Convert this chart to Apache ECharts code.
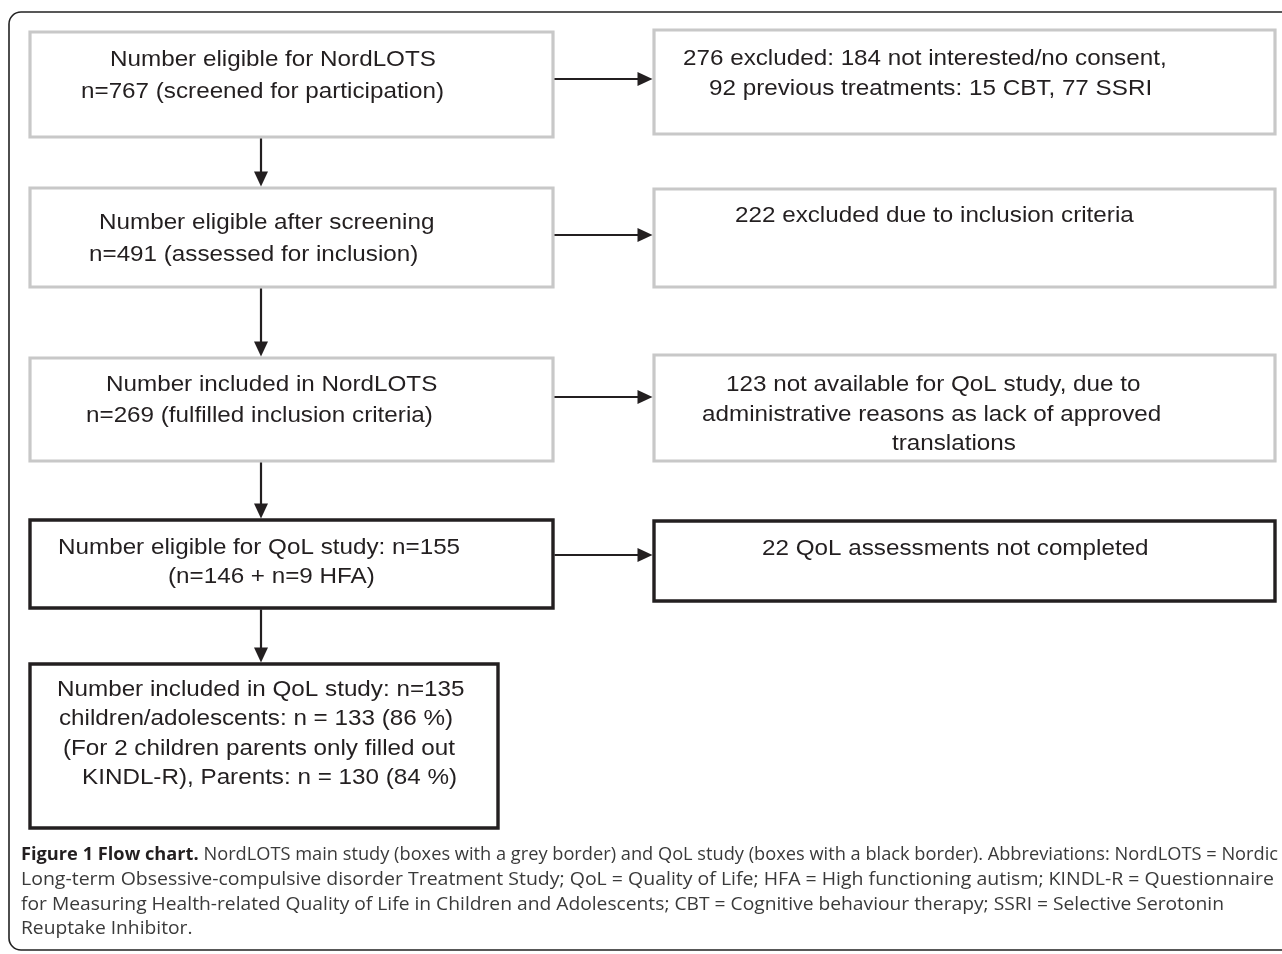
<!DOCTYPE html>
<html><head><meta charset="utf-8">
<script src="https://cdn.jsdelivr.net/npm/echarts@6/dist/echarts.min.js"></script>
<style>html,body{margin:0;padding:0;background:#fff}#chart{width:1282px;height:954px}</style>
</head><body><div id="chart"></div>
<script>
// ---------- data ----------
const stepCounts = [767, 491, 269, 155, 135];
const exclusionCounts = [276, 222, 123, 22];
const qolSplit = [146, 9];            // n=146 + n=9 HFA
const childCount = 133, childPct = 86;
const parentCount = 130, parentPct = 84;
const notInterested = 184, previousTreat = 92, prevCBT = 15, prevSSRI = 77;

const mainLines = [
  ['Number eligible for NordLOTS', `n=${stepCounts[0]} (screened for participation)`],
  ['Number eligible after screening', `n=${stepCounts[1]} (assessed for inclusion)`],
  ['Number included in NordLOTS', `n=${stepCounts[2]} (fulfilled inclusion criteria)`],
  [`Number eligible for QoL study: n=${stepCounts[3]}`, `(n=${qolSplit[0]} + n=${qolSplit[1]} HFA)`],
  [`Number included in QoL study: n=${stepCounts[4]}`, `children/adolescents: n = ${childCount} (${childPct} %)`,
   '(For 2 children parents only filled out', `KINDL-R), Parents: n = ${parentCount} (${parentPct} %)`]
];
const sideLines = [
  [`${exclusionCounts[0]} excluded: ${notInterested} not interested/no consent,`, `${previousTreat} previous treatments: ${prevCBT} CBT, ${prevSSRI} SSRI`],
  [`${exclusionCounts[1]} excluded due to inclusion criteria`],
  [`${exclusionCounts[2]} not available for QoL study, due to`, 'administrative reasons as lack of approved', 'translations'],
  [`${exclusionCounts[3]} QoL assessments not completed`]
];
const captionBold = 'Figure 1 Flow chart.';
const captionLines = [
  ' NordLOTS main study (boxes with a grey border) and QoL study (boxes with a black border). Abbreviations: NordLOTS = Nordic',
  'Long-term Obsessive-compulsive disorder Treatment Study; QoL = Quality of Life; HFA = High functioning autism; KINDL-R = Questionnaire',
  'for Measuring Health-related Quality of Life in Children and Adolescents; CBT = Cognitive behaviour therapy; SSRI = Selective Serotonin',
  'Reuptake Inhibitor.'
];

// ---------- layout ----------
const L = {
  mainBoxes: [[30,32,553,137],[30,188,553,287],[30,358,553,461],[30,520,553,608],[30,664,498,828]],
  mainKinds: ['grey','grey','grey','black','black'],
  sideBoxes: [[654,30,1275,134],[654,189,1275,287],[654,355,1275,461],[654,521,1275,601]],
  sideKinds: ['grey','grey','grey','black'],
  mainText: [[[110,67],[81,99]],[[99,230],[89,262]],[[106,392],[86,423]],[[58,555],[168,584]],[[57,697],[59,726],[63,756],[82,785]]],
  sideText: [[[683,66],[709,96]],[[735,223]],[[726,392],[702,422],[892,451]],[[762,556]]],
  arrowX: 261,
  hArrowY: [79, 235, 397, 555],
  captionX: 21,
  captionBase: [860, 885, 910, 934],
  captionRight: [1278, 1274, 1224, null]
};
const INK = '#231f20', GREY = '#c8c8c8';
const FS = 22.5, SX = 1.077;
const FONT = `${FS}px "Liberation Sans", Arial, sans-serif`;
const CFS = 17.5;
const CFONT = `${CFS}px "Open Sans", sans-serif`;
const CFONTB = `bold ${CFS}px "Open Sans", sans-serif`;

const cv = document.createElement('canvas').getContext('2d');
function measure(t, f){ cv.font = f; return cv.measureText(t).width; }

const els = [];
// outer frame
els.push({type:'rect', shape:{x:9, y:12, width:1300, height:938, r:12}, style:{fill:'none', stroke:'#222', lineWidth:1.6}, z:1});
function box(b, kind){
  els.push({type:'rect', shape:{x:b[0], y:b[1], width:b[2]-b[0], height:b[3]-b[1]},
    style:{fill:'#fff', stroke: kind==='grey'?GREY:INK, lineWidth: kind==='grey'?3.2:3.4}, z:2});
}
L.mainBoxes.forEach((b,i)=>box(b, L.mainKinds[i]));
L.sideBoxes.forEach((b,i)=>box(b, L.sideKinds[i]));

function text(str, x, base, font, fs, sx, color){
  els.push({type:'text', x:x, y:base - 0.31*fs, scaleX:sx, z:5,
    style:{text:str, font:font, fill:color, textAlign:'left', textVerticalAlign:'middle'}});
}
mainLines.forEach((ls,i)=>ls.forEach((s,j)=>text(s, L.mainText[i][j][0], L.mainText[i][j][1], FONT, FS, SX, INK)));
sideLines.forEach((ls,i)=>ls.forEach((s,j)=>text(s, L.sideText[i][j][0], L.sideText[i][j][1], FONT, FS, SX, INK)));

// arrows
const AL = 15, AW = 7;
function hArrow(x1, x2, y){
  els.push({type:'line', shape:{x1:x1, y1:y, x2:x2-AL+1, y2:y}, style:{stroke:INK, lineWidth:2.2}, z:3});
  els.push({type:'polygon', shape:{points:[[x2,y],[x2-AL,y-AW],[x2-AL,y+AW]]}, style:{fill:INK}, z:4});
}
function vArrow(x, y1, y2){
  els.push({type:'line', shape:{x1:x, y1:y1, x2:x, y2:y2-AL+1}, style:{stroke:INK, lineWidth:2.2}, z:3});
  els.push({type:'polygon', shape:{points:[[x,y2],[x-AW,y2-AL],[x+AW,y2-AL]]}, style:{fill:INK}, z:4});
}
L.hArrowY.forEach((y,i)=>hArrow(L.mainBoxes[i][2]+1.5, L.sideBoxes[i][0]-1.5, y));
for (let i=0;i<L.mainBoxes.length-1;i++) vArrow(L.arrowX, L.mainBoxes[i][3]+1.5, L.mainBoxes[i+1][1]-1.5);

// caption
let lastScale = 1;
captionLines.forEach((s,i)=>{
  const base = L.captionBase[i];
  let x = L.captionX;
  let wb = 0;
  if (i===0) wb = measure(captionBold, CFONTB);
  const wr = measure(s, CFONT);
  let sc = lastScale;
  if (L.captionRight[i]) sc = (L.captionRight[i] - x) / (wb + wr);
  lastScale = sc;
  if (i===0){
    text(captionBold, x, base, CFONTB, CFS, sc, INK);
    x += wb*sc;
  }
  text(s, x, base, CFONT, CFS, sc, '#3a3a3a');
});

const chart = echarts.init(document.getElementById('chart'));
chart.setOption({animation:false, backgroundColor:'#fff', graphic:{elements:els}});
</script></body></html>
